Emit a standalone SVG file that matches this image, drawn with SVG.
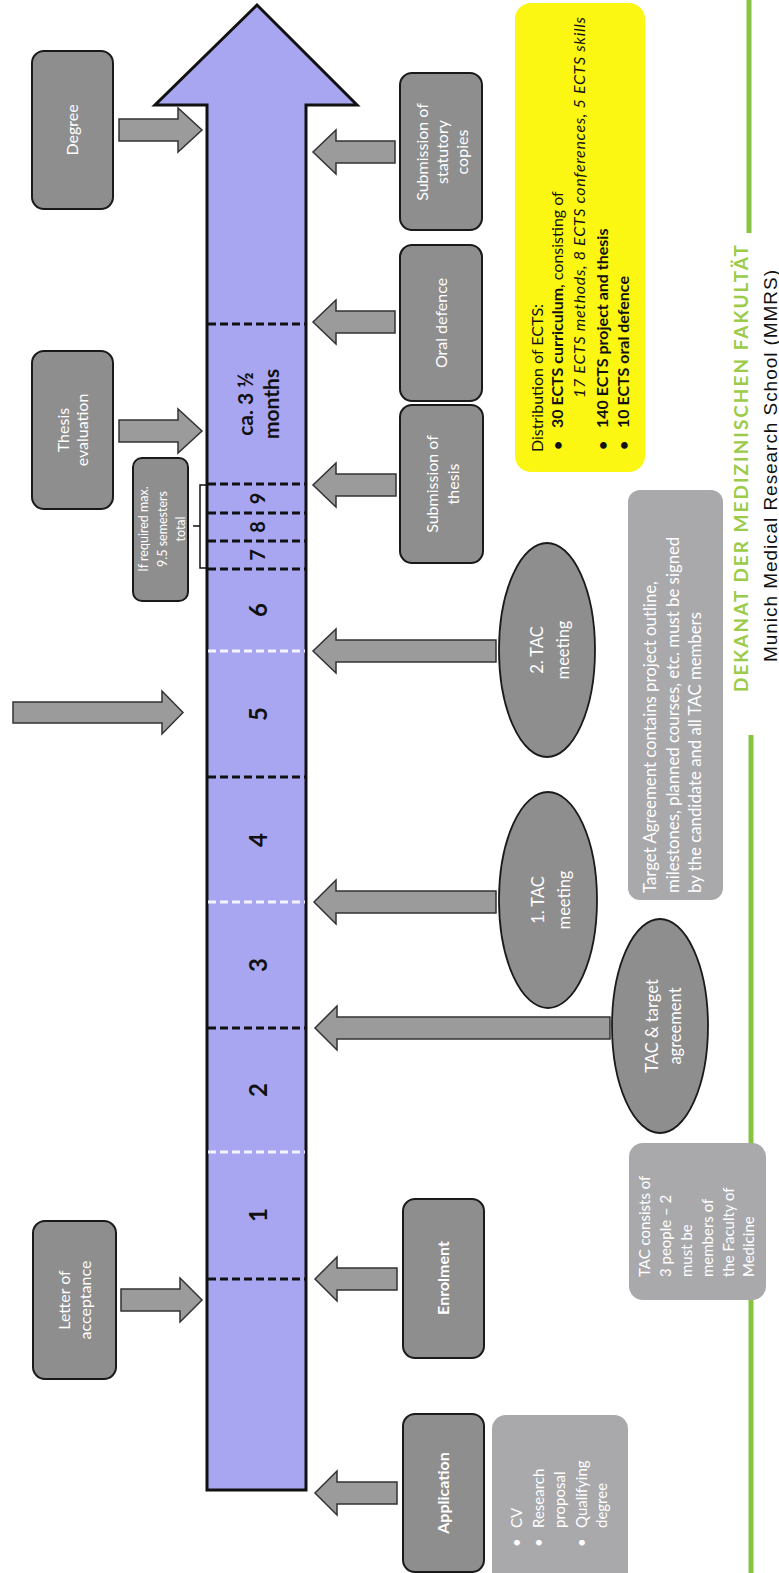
<svg xmlns="http://www.w3.org/2000/svg" width="779" height="1573" viewBox="0 0 779 1573">
<style>
text{font-family:Lato,"Open Sans","Liberation Sans",sans-serif}
.box{fill:#8e8e8e;stroke:#1a1a1a;stroke-width:2}
.lbox{fill:#a9a9ac;stroke:none}
.ell{fill:#8e8e8e;stroke:#1a1a1a;stroke-width:1.8}
.arr{fill:#9b9b9b;stroke:#333;stroke-width:1.5;stroke-linejoin:miter}
.lbl{fill:#fff;font-size:16px;text-anchor:middle}
.lbl2{fill:#fff;font-size:15px}
.num{fill:#111;font-size:24px;font-weight:bold;text-anchor:middle}
.dk{stroke:#111;stroke-width:3;stroke-dasharray:8 4}
.wt{stroke:#f4f4ff;stroke-width:3;stroke-dasharray:8 4}
.yl{fill:#111;font-size:16px}
</style>
<rect width="779" height="1573" fill="#fff"/>

<!-- main timeline arrow -->
<g id="timeline">
<path d="M207,1490 L207,105 L155,105 L257,5 L357,105 L306,105 L306,1490 Z" fill="#a9a6f1" stroke="#111" stroke-width="3"/>
<line class="dk" x1="208" y1="1279" x2="305" y2="1279"/>
<line class="wt" x1="208" y1="1152" x2="305" y2="1152"/>
<line class="dk" x1="208" y1="1028" x2="305" y2="1028"/>
<line class="wt" x1="208" y1="902" x2="305" y2="902"/>
<line class="dk" x1="208" y1="777" x2="305" y2="777"/>
<line class="wt" x1="208" y1="651" x2="305" y2="651"/>
<line class="dk" x1="208" y1="569" x2="305" y2="569"/>
<line class="dk" x1="208" y1="541" x2="305" y2="541"/>
<line class="dk" x1="208" y1="513" x2="305" y2="513"/>
<line class="dk" x1="208" y1="484" x2="305" y2="484"/>
<line class="dk" x1="208" y1="324" x2="305" y2="324"/>
<text class="num" transform="translate(258,1215) rotate(-90)" y="8.5">1</text>
<text class="num" transform="translate(258,1090) rotate(-90)" y="8.5">2</text>
<text class="num" transform="translate(258,965) rotate(-90)" y="8.5">3</text>
<text class="num" transform="translate(258,840) rotate(-90)" y="8.5">4</text>
<text class="num" transform="translate(258,714) rotate(-90)" y="8.5">5</text>
<text class="num" transform="translate(258,610) rotate(-90)" y="8.5">6</text>
<text class="num" style="font-size:20px" transform="translate(258,555) rotate(-90)" y="7">7</text>
<text class="num" style="font-size:20px" transform="translate(258,527) rotate(-90)" y="7">8</text>
<text class="num" style="font-size:20px" transform="translate(258,498.5) rotate(-90)" y="7">9</text>
<text class="num" style="font-size:21px" transform="translate(258,404) rotate(-90)"><tspan x="0" y="-5">ca. 3 ½</tspan><tspan x="0" y="21">months</tspan></text>
<path d="M207,485 L200,485 L200,526 L193,526 M200,526 L200,568 L207,568" fill="none" stroke="#111" stroke-width="1.5"/>
</g>

<!-- connectors -->
<g id="connectors">
<path class="arr" d="M119,119 L178,119 L178,108 L202,130 L178,152 L178,141 L119,141 Z"/>
<path class="arr" d="M119,420 L178,420 L178,409 L202,431 L178,453 L178,442 L119,442 Z"/>
<path class="arr" d="M13,702 L162,702 L162,691 L183,712.5 L162,734 L162,723 L13,723 Z"/>
<path class="arr" d="M121,1289 L180,1289 L180,1278 L202,1300 L180,1322 L180,1311 L121,1311 Z"/>
<path class="arr" d="M395,141 L336,141 L336,130 L313,152 L336,174 L336,163 L395,163 Z"/>
<path class="arr" d="M395,311 L336,311 L336,300 L313,322 L336,344 L336,333 L395,333 Z"/>
<path class="arr" d="M396,474 L336,474 L336,463 L313,485 L336,507 L336,496 L396,496 Z"/>
<path class="arr" d="M496,640 L336,640 L336,629 L313,651 L336,673 L336,662 L496,662 Z"/>
<path class="arr" d="M496,891 L336,891 L336,880 L314,902 L336,924 L336,913 L496,913 Z"/>
<path class="arr" d="M610,1017 L337,1017 L337,1006 L315,1028 L337,1050 L337,1039 L610,1039 Z"/>
<path class="arr" d="M397,1268 L337,1268 L337,1257 L315,1279 L337,1301 L337,1290 L397,1290 Z"/>
<path class="arr" d="M397,1482 L337,1482 L337,1471 L315,1493 L337,1515 L337,1504 L397,1504 Z"/>
</g>

<!-- footer decoration -->
<g id="footer">
<line x1="749" y1="0" x2="749" y2="233" stroke="#86c341" stroke-width="5"/>
<line x1="751" y1="735" x2="751" y2="1573" stroke="#86c341" stroke-width="5"/>
<text transform="translate(0,692) rotate(-90)" x="0" y="748" fill="#9ccb4a" font-size="19" font-weight="bold" textLength="447" lengthAdjust="spacing">DEKANAT DER MEDIZINISCHEN FAKULTÄT</text>
<text transform="translate(0,662) rotate(-90)" x="0" y="777" fill="#111" font-size="19" style="font-family:'Liberation Sans',Arial,sans-serif" textLength="392" lengthAdjust="spacing">Munich Medical Research School (MMRS)</text>
</g>

<g id="degree">
<rect class="box" x="32" y="51" width="81" height="158" rx="12"/>
<text class="lbl" transform="translate(72.5,130) rotate(-90)" y="5.5">Degree</text>
</g>
<g id="thesis-evaluation">
<rect class="box" x="32" y="351" width="81" height="158" rx="12"/>
<text class="lbl" transform="translate(72.5,430) rotate(-90)"><tspan x="0" y="-4">Thesis</tspan><tspan x="0" y="15.5">evaluation</tspan></text>
</g>
<g id="if-required">
<rect class="box" x="133" y="458" width="55" height="143" rx="9"/>
<text class="lbl" style="font-size:12.5px" transform="translate(160.5,529) rotate(-90)"><tspan x="0" y="-13">If required max.</tspan><tspan x="0" y="6.5">9.5 semesters</tspan><tspan x="0" y="24">total</tspan></text>
</g>
<g id="letter-of-acceptance">
<rect class="box" x="33" y="1221" width="83" height="158" rx="12"/>
<text class="lbl" transform="translate(74.5,1300) rotate(-90)"><tspan x="0" y="-5">Letter of</tspan><tspan x="0" y="16">acceptance</tspan></text>
</g>
<g id="statutory-copies">
<rect class="box" x="400" y="73" width="82" height="157" rx="12"/>
<text class="lbl" transform="translate(441,152) rotate(-90)"><tspan x="0" y="-13">Submission of</tspan><tspan x="0" y="7">statutory</tspan><tspan x="0" y="26.5">copies</tspan></text>
</g>
<g id="oral-defence">
<rect class="box" x="400" y="245" width="82" height="156" rx="12"/>
<text class="lbl" transform="translate(441,323) rotate(-90)" y="5.5">Oral defence</text>
</g>
<g id="submission-of-thesis">
<rect class="box" x="400" y="405" width="83" height="158" rx="12"/>
<text class="lbl" transform="translate(441.5,484) rotate(-90)"><tspan x="0" y="-4">Submission of</tspan><tspan x="0" y="17">thesis</tspan></text>
</g>
<g id="tac-meeting-2">
<ellipse class="ell" cx="547" cy="650" rx="48" ry="107"/>
<text class="lbl" style="font-size:16.5px" transform="translate(547,650) rotate(-90)"><tspan x="0" y="-4.5">2. TAC</tspan><tspan x="0" y="21.5">meeting</tspan></text>
</g>
<g id="tac-meeting-1">
<ellipse class="ell" cx="548" cy="900" rx="49" ry="108"/>
<text class="lbl" style="font-size:16.5px" transform="translate(548,900) rotate(-90)"><tspan x="0" y="-4.5">1. TAC</tspan><tspan x="0" y="21.5">meeting</tspan></text>
</g>
<g id="tac-target-agreement">
<ellipse class="ell" cx="660" cy="1026" rx="48" ry="107"/>
<text class="lbl" style="font-size:16.5px" transform="translate(660,1026) rotate(-90)"><tspan x="0" y="-2.5">TAC &amp; target</tspan><tspan x="0" y="20.5">agreement</tspan></text>
</g>
<g id="enrolment">
<rect class="box" x="403" y="1199" width="81" height="159" rx="12"/>
<text class="lbl" style="font-weight:bold" transform="translate(443.5,1278) rotate(-90)" y="5.5">Enrolment</text>
</g>
<g id="application">
<rect class="box" x="403" y="1414" width="81" height="158" rx="12"/>
<text class="lbl" style="font-weight:bold" transform="translate(443.5,1493) rotate(-90)" y="5.5">Application</text>
</g>
<g id="application-requirements">
<rect class="lbox" x="492" y="1415" width="136" height="175" rx="14"/>
<text class="lbl2" transform="translate(0,1528) rotate(-90)"><tspan x="-19" y="522">•</tspan><tspan x="0" y="522">CV</tspan><tspan x="-19" y="544">•</tspan><tspan x="0" y="544">Research</tspan><tspan x="0" y="565">proposal</tspan><tspan x="-19" y="587">•</tspan><tspan x="0" y="587">Qualifying</tspan><tspan x="0" y="607">degree</tspan></text>
</g>
<g id="tac-composition">
<rect class="lbox" x="629" y="1143" width="137" height="157" rx="14"/>
<text class="lbl2" transform="translate(0,1277) rotate(-90)"><tspan x="0" y="650">TAC consists of</tspan><tspan x="0" y="671">3 people – 2</tspan><tspan x="0" y="692">must be</tspan><tspan x="0" y="713">members of</tspan><tspan x="0" y="734">the Faculty of</tspan><tspan x="0" y="754">Medicine</tspan></text>
</g>
<g id="target-agreement-note">
<rect class="lbox" x="628" y="490" width="95" height="410" rx="12"/>
<text class="lbl2" style="font-size:16.8px" transform="translate(0,893) rotate(-90)"><tspan x="0" y="656">Target Agreement contains project outline,</tspan><tspan x="0" y="679">milestones, planned courses, etc. must be signed</tspan><tspan x="0" y="701">by the candidate and all TAC members</tspan></text>
</g>
<g id="ects-distribution">
<rect x="515" y="3" width="130" height="469" rx="16" fill="#fbf712"/>
<text class="yl" transform="translate(0,452) rotate(-90)"><tspan x="0" y="543">Distribution of ECTS:</tspan><tspan x="2" y="563" font-weight="bold">•</tspan><tspan x="24" y="563" font-weight="bold">30 ECTS curriculum</tspan><tspan>, consisting of</tspan><tspan x="54" y="585" font-style="italic" textLength="381" lengthAdjust="spacing">17 ECTS methods,  8 ECTS conferences,  5 ECTS skills</tspan><tspan x="2" y="608" font-weight="bold">•</tspan><tspan x="24" y="608" font-weight="bold">140 ECTS project and thesis</tspan><tspan x="2" y="629" font-weight="bold">•</tspan><tspan x="24" y="629" font-weight="bold">10 ECTS oral defence</tspan></text>
</g>
</svg>
